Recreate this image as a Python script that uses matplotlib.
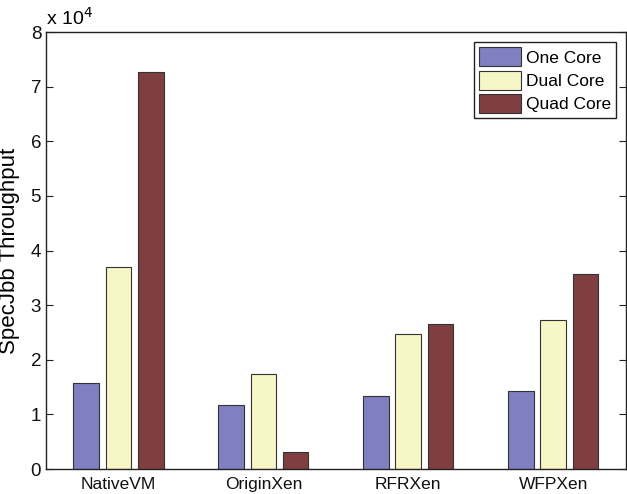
import numpy as np
from matplotlib import pyplot as plt

plt.rcParams['font.family'] = ['Liberation Sans', 'DejaVu Sans']

groups = ['NativeVM', 'OriginXen', 'RFRXen', 'WFPXen']
series = ['One Core', 'Dual Core', 'Quad Core']
one_core = [15800, 11700, 13300, 14300]
dual_core = [37000, 17400, 24800, 27200]
quad_core = [72700, 3100, 26500, 35700]
colors = ['#8080c0', '#f7f6c6', '#7f3f40']

fig = plt.figure(figsize=(6.27, 4.94), dpi=100)
ax = fig.add_axes([0.0734, 0.0506, 0.9246, 0.8844])

x = np.arange(1, len(groups) + 1)
w = 0.178
step = 0.222
for i, (vals, lab) in enumerate(zip([one_core, dual_core, quad_core], series)):
    ax.bar(x + (i - 1) * step, vals, w, color=colors[i], edgecolor='#333333',
           linewidth=0.8, label=lab, zorder=2)

ax.set_xlim(0.5, 4.5)
ax.set_ylim(0, 80000)
ax.set_xticks(x)
ax.set_xticklabels(groups, fontsize=12.5)
ax.set_yticks(np.arange(0, 80001, 10000))
ax.set_yticklabels([str(v) for v in range(9)], fontsize=13.5)
ax.tick_params(direction='in', length=5, width=0.8, top=True, right=True,
               colors='#222222', labelcolor='#111111')
ax.tick_params(axis='x', pad=6, length=0)
for s in ax.spines.values():
    s.set_linewidth(1.0)
    s.set_color('#222222')

ax.set_ylabel('SpecJbb Throughput', fontsize=16, labelpad=8)
ax.text(0.0, 1.008, r'x 10$^4$', transform=ax.transAxes, fontsize=14,
        ha='left', va='bottom')

leg = ax.legend(loc='upper right', bbox_to_anchor=(0.984, 0.977), fontsize=12.5,
                fancybox=False, framealpha=1, edgecolor='#222222',
                handlelength=2.4, handleheight=1.3, handletextpad=0.3,
                borderpad=0.3, labelspacing=0.25, borderaxespad=0)
leg.get_frame().set_linewidth(1.0)

fig.savefig('out.png', dpi=100)
